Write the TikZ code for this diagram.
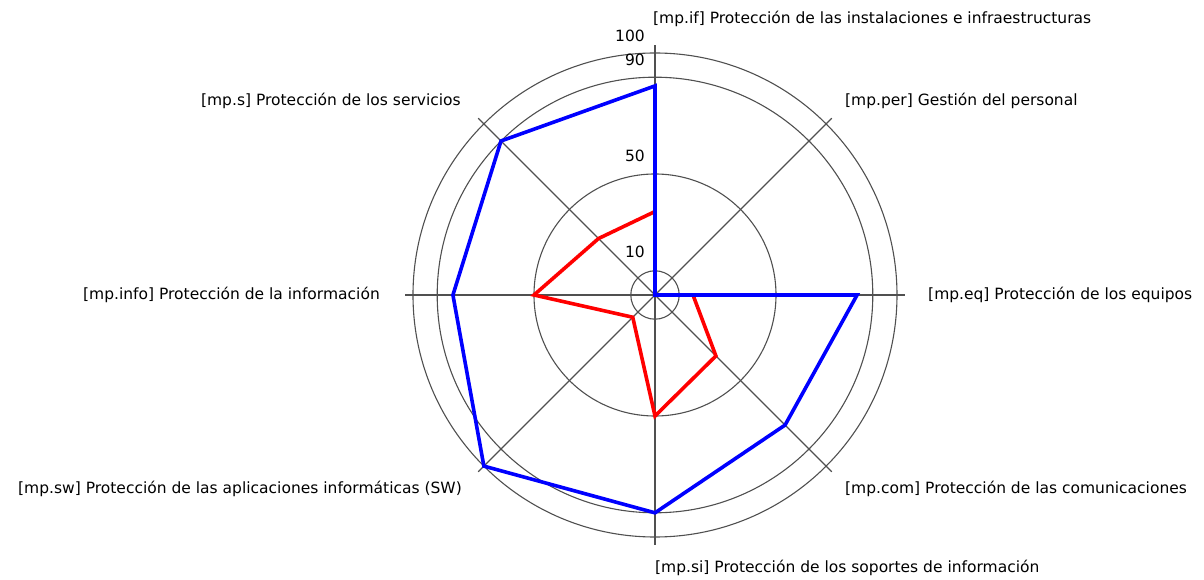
\documentclass[tikz,border=0pt]{standalone}
\usepackage{fontspec}
\setmainfont{DejaVu Sans}
\definecolor{gridgray}{RGB}{80,80,80}
\begin{document}
\begin{tikzpicture}[x=1pt,y=1pt,font=\fontsize{15.5}{18}\selectfont,
                    line join=miter]
  \tikzstyle{grid}=[draw=gridgray,line width=1.1pt]
  \tikzstyle{actual}=[draw=blue,line width=3.6pt]
  \tikzstyle{target}=[draw=red,line width=3.6pt]
  \tikzstyle{axis label}=[inner sep=0pt]
  \tikzstyle{tick}=[inner sep=0pt,anchor=east]
  \def\rs{2.42}
  \useasboundingbox (-655,-285) rectangle (549,295);
  % rings
  \coordinate (o) at (0,0);
  \draw[grid] (o) circle (24.2);
  \draw[grid] (o) circle (121);
  \draw[grid] (o) circle (217.8);
  \draw[grid] (o) circle (242);
  % spokes
  \coordinate (aif) at (90:250);
  \coordinate (aper) at (45:250);
  \coordinate (aeq) at (0:250);
  \coordinate (acom) at (-45:250);
  \coordinate (asi) at (-90:250);
  \coordinate (asw) at (-135:250);
  \coordinate (ainfo) at (180:250);
  \coordinate (as) at (135:250);
  \draw[grid]
        (o) edge (aif)
        (o) edge (aper)
        (o) edge (aeq)
        (o) edge (acom)
        (o) edge (asi)
        (o) edge (asw)
        (o) edge (ainfo)
        (o) edge (as);
  % scale
  \node[tick] (t100) at (-10,259) {100};
  \node[tick] (t90) at (-10,235) {90};
  \node[tick] (t50) at (-10,139) {50};
  \node[tick] (t10) at (-10,43) {10};
  % red series
  \coordinate (rif) at (90:{34.5*\rs});
  \coordinate (rper) at (o);
  \coordinate (req) at (0:{15.7*\rs});
  \coordinate (rcom) at (-45:{35.6*\rs});
  \coordinate (rsi) at (-90:{50*\rs});
  \coordinate (rsw) at (-135:{13*\rs});
  \coordinate (rinfo) at (180:{50*\rs});
  \coordinate (rs) at (135:{33*\rs});
  \draw[target] (rif) -- (rper) -- (req) -- (rcom) -- (rsi) -- (rsw)
        -- (rinfo) -- (rs) -- cycle;
  % blue series
  \coordinate (bif) at (90:{86.4*\rs});
  \coordinate (bper) at (o);
  \coordinate (beq) at (0:{83.5*\rs});
  \coordinate (bcom) at (-45:{76*\rs});
  \coordinate (bsi) at (-90:{90*\rs});
  \coordinate (bsw) at (-135:{100*\rs});
  \coordinate (binfo) at (180:{83.5*\rs});
  \coordinate (bs) at (135:{90*\rs});
  \draw[actual] (bif) -- (bper) -- (beq) -- (bcom) -- (bsi) -- (bsw)
        -- (binfo) -- (bs) -- cycle;
  % category labels
  \node[axis label,anchor=west] (lif) at (-2,276)
        {[mp.if] Protección de las instalaciones e infraestructuras};
  \node[axis label,anchor=west] (lper) at (190,194)
        {[mp.per] Gestión del personal};
  \node[axis label,anchor=west] (leq) at (273,0)
        {[mp.eq] Protección de los equipos};
  \node[axis label,anchor=west] (lcom) at (190,-194)
        {[mp.com] Protección de las comunicaciones};
  \node[axis label,anchor=west] (lsi) at (0,-273)
        {[mp.si] Protección de los soportes de información};
  \node[axis label,anchor=east] (lsw) at (-193,-194)
        {[mp.sw] Protección de las aplicaciones informáticas (SW)};
  \node[axis label,anchor=east] (linfo) at (-275,0)
        {[mp.info] Protección de la información};
  \node[axis label,anchor=east] (ls) at (-194,194)
        {[mp.s] Protección de los servicios};
\end{tikzpicture}
\end{document}
